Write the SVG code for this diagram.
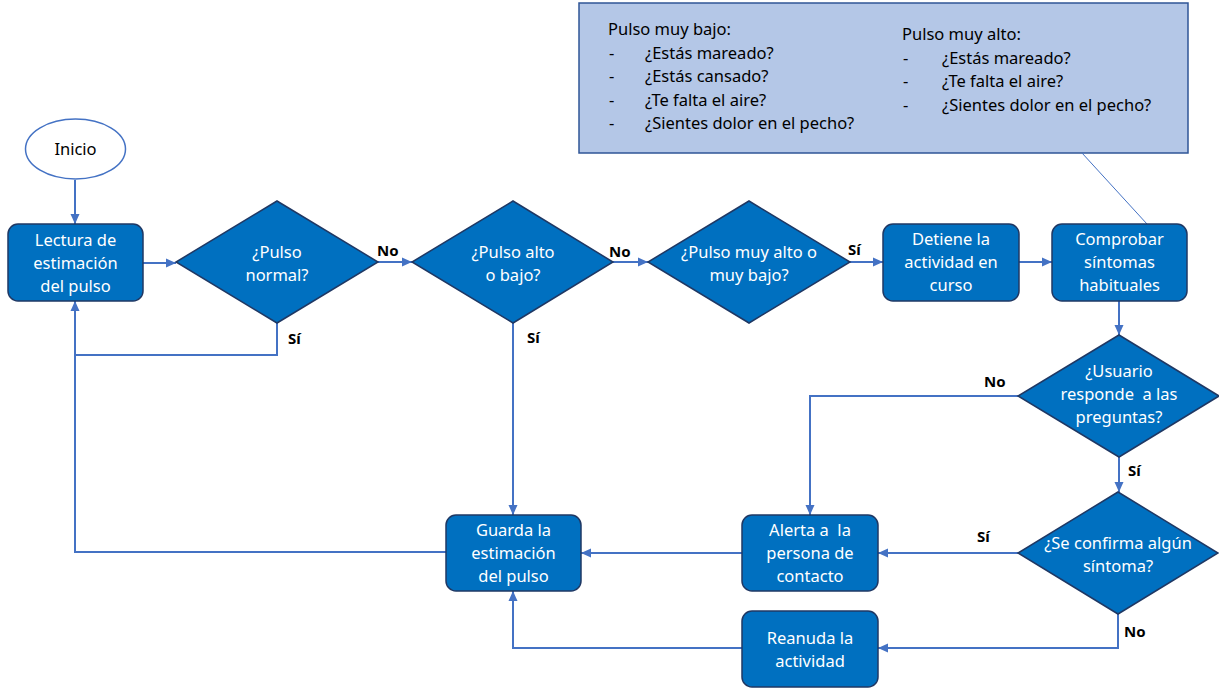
<svg xmlns="http://www.w3.org/2000/svg" width="1219" height="690" viewBox="0 0 1219 690">
<style>
.node{fill:#0070C0;stroke:#1F3864;stroke-width:1.5}
.nt{font-family:"Noto Sans","Liberation Sans",sans-serif;font-size:16.5px;fill:#fff;text-anchor:middle}
.pre{white-space:pre}
.lbl{font-family:"Noto Sans","Liberation Sans",sans-serif;font-size:15px;font-weight:bold;fill:#000}
.ct{font-family:"Noto Sans","Liberation Sans",sans-serif;font-size:16.5px;fill:#000}
.cn{fill:none;stroke:#4472C4;stroke-width:2}
</style>
<defs>
<marker id="ah" markerUnits="userSpaceOnUse" markerWidth="10" markerHeight="10" refX="10" refY="5" orient="auto">
<path d="M0,0.5 L10,5 L0,9.5 z" fill="#4472C4"/>
</marker>
</defs>

<g id="callout">
<rect x="579" y="3" width="609" height="150" fill="#B4C7E7" stroke="#2F5597" stroke-width="1.5"/>
<text class="ct" x="608" y="35">Pulso muy bajo:</text>
<text class="ct" x="609" y="58.5">-</text><text class="ct" x="645" y="58.5">¿Estás mareado?</text>
<text class="ct" x="609" y="82">-</text><text class="ct" x="645" y="82">¿Estás cansado?</text>
<text class="ct" x="609" y="105.5">-</text><text class="ct" x="645" y="105.5">¿Te falta el aire?</text>
<text class="ct" x="609" y="129">-</text><text class="ct" x="645" y="129">¿Sientes dolor en el pecho?</text>
<text class="ct" x="902" y="40">Pulso muy alto:</text>
<text class="ct" x="903" y="63.5">-</text><text class="ct" x="942" y="63.5">¿Estás mareado?</text>
<text class="ct" x="903" y="87">-</text><text class="ct" x="942" y="87">¿Te falta el aire?</text>
<text class="ct" x="903" y="110.5">-</text><text class="ct" x="942" y="110.5">¿Sientes dolor en el pecho?</text>
</g>

<g id="connectors">
<line x1="1082" y1="153" x2="1147" y2="224" stroke="#4472C4" stroke-width="1"/>
<path class="cn" d="M75,180 V224" marker-end="url(#ah)"/>
<path class="cn" d="M143,263 H176" marker-end="url(#ah)"/>
<path class="cn" d="M378,262 H412" marker-end="url(#ah)"/>
<path class="cn" d="M613,262 H648" marker-end="url(#ah)"/>
<path class="cn" d="M850,262 H883" marker-end="url(#ah)"/>
<path class="cn" d="M1019,262 H1052" marker-end="url(#ah)"/>
<path class="cn" d="M1119,301 V335" marker-end="url(#ah)"/>
<path class="cn" d="M1018,396 H810 V515" marker-end="url(#ah)"/>
<path class="cn" d="M1119,457 V492" marker-end="url(#ah)"/>
<path class="cn" d="M1018,553 H878" marker-end="url(#ah)"/>
<path class="cn" d="M1118,614 V648 H878" marker-end="url(#ah)"/>
<path class="cn" d="M742,553 H581" marker-end="url(#ah)"/>
<path class="cn" d="M742,648 H513 V591" marker-end="url(#ah)"/>
<path class="cn" d="M513,323 V515" marker-end="url(#ah)"/>
<path class="cn" d="M277,323 V355 H75"/>
<path class="cn" d="M446,552 H75 V301" marker-end="url(#ah)"/>
<text class="lbl" x="377" y="256">No</text>
<text class="lbl" x="288" y="344">Sí</text>
<text class="lbl" x="609" y="257">No</text>
<text class="lbl" x="527" y="343">Sí</text>
<text class="lbl" x="848" y="255">Sí</text>
<text class="lbl" x="984" y="387">No</text>
<text class="lbl" x="1128" y="476">Sí</text>
<text class="lbl" x="977" y="542">Sí</text>
<text class="lbl" x="1124" y="637">No</text>
</g>

<g id="inicio">
<ellipse cx="75.5" cy="149" rx="50" ry="30" fill="#fff" stroke="#4472C4" stroke-width="1.5"/>
<text class="nt" x="75.5" y="155" style="fill:#000">Inicio</text>
</g>

<g id="lectura">
<rect class="node" x="8" y="224" width="135" height="77" rx="10"/>
<text class="nt" x="75.5" y="246">Lectura de</text>
<text class="nt" x="75.5" y="269">estimación</text>
<text class="nt" x="75.5" y="292">del pulso</text>
</g>

<g id="d-normal">
<polygon class="node" points="277,201 378,262 277,323 176,262"/>
<text class="nt" x="277" y="258">¿Pulso</text>
<text class="nt" x="277" y="281">normal?</text>
</g>

<g id="d-altobajo">
<polygon class="node" points="513,201 613,262 513,323 412,262"/>
<text class="nt" x="513" y="258">¿Pulso alto</text>
<text class="nt" x="513" y="281">o bajo?</text>
</g>

<g id="d-muy">
<polygon class="node" points="749,201 850,262 749,323 648,262"/>
<text class="nt" x="749" y="258">¿Pulso muy alto o</text>
<text class="nt" x="749" y="281">muy bajo?</text>
</g>

<g id="detiene">
<rect class="node" x="883" y="224" width="136" height="77" rx="10"/>
<text class="nt" x="951" y="245">Detiene la</text>
<text class="nt" x="951" y="268">actividad en</text>
<text class="nt" x="951" y="291">curso</text>
</g>

<g id="comprobar">
<rect class="node" x="1052" y="224" width="135" height="77" rx="10"/>
<text class="nt" x="1119.5" y="245">Comprobar</text>
<text class="nt" x="1119.5" y="268">síntomas</text>
<text class="nt" x="1119.5" y="291">habituales</text>
</g>

<g id="d-usuario">
<polygon class="node" points="1119,335 1219,396 1119,457 1018,396"/>
<text class="nt" x="1119" y="377">¿Usuario</text>
<text class="nt pre" x="1119" y="400">responde  a las</text>
<text class="nt" x="1119" y="423">preguntas?</text>
</g>

<g id="d-confirma">
<polygon class="node" points="1118,492 1218,553 1118,614 1018,553"/>
<text class="nt" x="1118" y="549">¿Se confirma algún</text>
<text class="nt" x="1118" y="572">síntoma?</text>
</g>

<g id="alerta">
<rect class="node" x="742" y="515" width="136" height="76" rx="10"/>
<text class="nt pre" x="810" y="536">Alerta a  la</text>
<text class="nt" x="810" y="559">persona de</text>
<text class="nt" x="810" y="582">contacto</text>
</g>

<g id="reanuda">
<rect class="node" x="742" y="611" width="136" height="76" rx="10"/>
<text class="nt" x="810" y="644">Reanuda la</text>
<text class="nt" x="810" y="667">actividad</text>
</g>

<g id="guarda">
<rect class="node" x="446" y="515" width="135" height="76" rx="10"/>
<text class="nt" x="513.5" y="536">Guarda la</text>
<text class="nt" x="513.5" y="559">estimación</text>
<text class="nt" x="513.5" y="582">del pulso</text>
</g>
</svg>
